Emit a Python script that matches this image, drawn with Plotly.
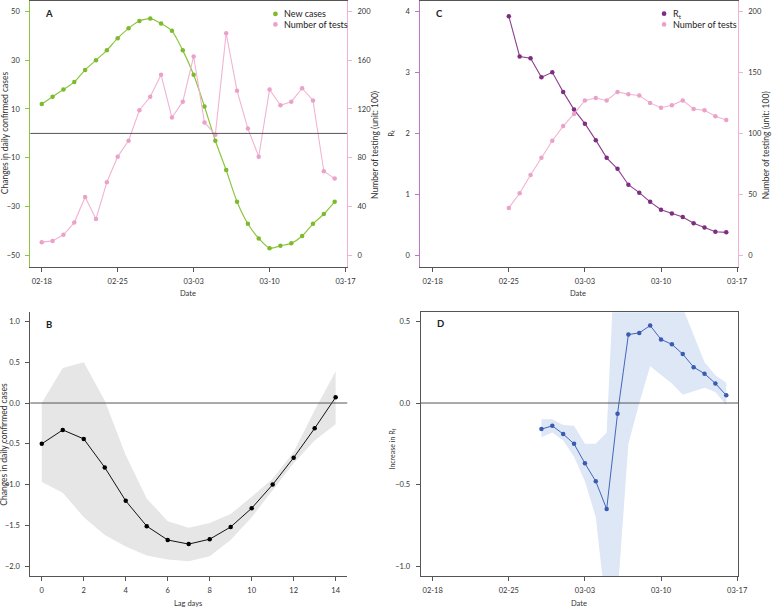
import plotly.graph_objects as go
from datetime import datetime, timedelta

# ---------------- data ----------------
DATES_A = ["02-18", "02-19", "02-20", "02-21", "02-22", "02-23", "02-24", "02-25",
           "02-26", "02-27", "02-28", "02-29", "03-01", "03-02", "03-03", "03-04",
           "03-05", "03-06", "03-07", "03-08", "03-09", "03-10", "03-11", "03-12",
           "03-13", "03-14", "03-15", "03-16"]
NEW_CASES = [12, 15, 18, 21, 26, 30, 34, 39, 43, 46, 47, 45, 42, 34, 24, 11,
             -3, -15, -28, -37, -43, -47, -46, -45, -42, -37, -33, -28]
TESTS_A = [11, 12, 17, 27, 48, 30, 60, 81, 94, 119, 130, 148, 113, 126, 163, 109,
           99, 182, 135, 104, 81, 136, 123, 126, 137, 127, 69, 63]

DATES_C = ["02-25", "02-26", "02-27", "02-28", "02-29", "03-01", "03-02", "03-03",
           "03-04", "03-05", "03-06", "03-07", "03-08", "03-09", "03-10", "03-11",
           "03-12", "03-13", "03-14", "03-15", "03-16"]
RT = [3.92, 3.26, 3.23, 2.92, 3.00, 2.68, 2.39, 2.16, 1.89, 1.60, 1.42, 1.16,
      1.03, 0.88, 0.75, 0.69, 0.63, 0.53, 0.46, 0.39, 0.38]
TESTS_C = [39, 51, 66, 80, 94, 106, 116, 127, 129, 127, 134, 132, 131, 125, 121,
           123, 127, 120, 119, 114, 111]

LAGS = list(range(15))
B_EST = [-0.50, -0.33, -0.44, -0.79, -1.20, -1.51, -1.68, -1.73, -1.67, -1.52,
         -1.29, -1.00, -0.67, -0.31, 0.07]
B_UPPER = [0.00, 0.43, 0.50, 0.03, -0.64, -1.17, -1.45, -1.53, -1.47, -1.36,
           -1.15, -0.93, -0.60, -0.09, 0.39]
B_LOWER = [-0.97, -1.10, -1.40, -1.62, -1.76, -1.87, -1.92, -1.94, -1.88, -1.68,
           -1.40, -1.07, -0.74, -0.46, -0.26]

DATES_D = ["02-28", "02-29", "03-01", "03-02", "03-03", "03-04", "03-05", "03-06",
           "03-07", "03-08", "03-09", "03-10", "03-11", "03-12", "03-13", "03-14",
           "03-15", "03-16"]
D_EST = [-0.16, -0.14, -0.19, -0.25, -0.37, -0.48, -0.65, -0.065, 0.42, 0.43,
         0.475, 0.39, 0.36, 0.30, 0.22, 0.18, 0.12, 0.047]
D_UPPER = [-0.10, -0.10, -0.135, -0.14, -0.25, -0.25, -0.18, 1.25, 1.20, 1.10,
           1.00, 0.90, 0.75, 0.58, 0.42, 0.25, 0.17, 0.125]
D_LOWER = [-0.21, -0.18, -0.23, -0.33, -0.48, -0.70, -1.30, -1.18, -0.25, 0.00,
           0.225, 0.17, 0.12, 0.05, 0.07, 0.094, 0.067, -0.014]

DATE_TICKS = ["02-18", "02-25", "03-03", "03-10", "03-17"]
LAG_TICKS = [0, 2, 4, 6, 8, 10, 12, 14]


def to_dt(s):
    return datetime.strptime("2020-" + s, "%Y-%m-%d")


xa = [to_dt(s) for s in DATES_A]
xc = [to_dt(s) for s in DATES_C]
xd = [to_dt(s) for s in DATES_D]
date_ticks = [to_dt(s) for s in DATE_TICKS]

# ---------------- styling ----------------
W, H = 780, 608
FONT = "Lato"
TXT = "#333333"
AX = "#555555"
GREEN = "#8CC63F"
GREEN_M = "#7DBA2C"
PINK = "#F2B3D3"
PINK_M = "#EBA2CA"
PURPLE = "#8F3F8F"
PURPLE_M = "#7D2E80"
PURPLE_AX = "#BA78C2"
BLUE = "#4466BB"
BLUE_M = "#3A5BB0"
BLUE_BAND = "#DDE7F6"
GRAY_BAND = "#E6E6E6"

TICKFONT = dict(family=FONT, size=7.5, color=TXT)


def px_x(p):
    return p / W


def px_y(p):
    return 1 - p / H


def day_range(left_days, right_days):
    return [to_dt("02-18") - timedelta(days=left_days),
            to_dt("03-17") + timedelta(days=right_days)]


fig = go.Figure()

# ---- Panel A ----
fig.add_trace(go.Scatter(x=xa, y=NEW_CASES, xaxis="x", yaxis="y", mode="lines+markers",
                         line=dict(color=GREEN, width=1.2, shape="spline", smoothing=0.6),
                         marker=dict(color=GREEN_M, size=4.5), name="New cases", showlegend=False))
fig.add_trace(go.Scatter(x=xa, y=TESTS_A, xaxis="x", yaxis="y2", mode="lines+markers",
                         line=dict(color=PINK, width=1.1),
                         marker=dict(color=PINK_M, size=4.5), name="Number of tests", showlegend=False))

# ---- Panel C ----
fig.add_trace(go.Scatter(x=xc, y=RT, xaxis="x2", yaxis="y3", mode="lines+markers",
                         line=dict(color=PURPLE, width=1.1),
                         marker=dict(color=PURPLE_M, size=4.5), name="Rt", showlegend=False))
fig.add_trace(go.Scatter(x=xc, y=TESTS_C, xaxis="x2", yaxis="y4", mode="lines+markers",
                         line=dict(color=PINK, width=1.1),
                         marker=dict(color=PINK_M, size=4.5), name="Number of tests", showlegend=False))

# ---- Panel B ----
fig.add_trace(go.Scatter(x=LAGS + LAGS[::-1], y=B_UPPER + B_LOWER[::-1], xaxis="x3", yaxis="y5",
                         mode="lines", fill="toself", fillcolor=GRAY_BAND,
                         line=dict(width=0, color=GRAY_BAND), hoverinfo="skip", showlegend=False))
fig.add_trace(go.Scatter(x=LAGS, y=B_EST, xaxis="x3", yaxis="y5", mode="lines+markers",
                         line=dict(color="#111111", width=1),
                         marker=dict(color="#000000", size=4.5), showlegend=False))

# ---- Panel D ----
fig.add_trace(go.Scatter(x=xd + xd[::-1], y=D_UPPER + D_LOWER[::-1], xaxis="x4", yaxis="y6",
                         mode="lines", fill="toself", fillcolor=BLUE_BAND,
                         line=dict(width=0, color=BLUE_BAND), hoverinfo="skip", showlegend=False))
fig.add_trace(go.Scatter(x=xd, y=D_EST, xaxis="x4", yaxis="y6", mode="lines+markers",
                         line=dict(color=BLUE, width=1),
                         marker=dict(color=BLUE_M, size=4.5), showlegend=False))

common_x = dict(showgrid=False, zeroline=False, showline=True, linecolor=AX, linewidth=1,
                ticks="outside", ticklen=4, tickcolor=AX, tickfont=TICKFONT,
                ticklabelstandoff=3)
common_y = dict(showgrid=False, zeroline=False, showline=True, linewidth=1,
                ticks="outside", ticklen=4, tickfont=TICKFONT, ticklabelstandoff=4)

top_dom = [px_y(266), px_y(0.5)]
bot_dom = [px_y(576), px_y(311.7)]

fig.update_layout(
    width=W, height=H, margin=dict(l=0, r=0, t=0, b=0),
    paper_bgcolor="white", plot_bgcolor="white",
    font=dict(family=FONT, color=TXT),
    showlegend=False,
    xaxis=dict(common_x, domain=[px_x(30.7), px_x(351.5)], anchor="y", type="date",
               range=day_range(1.055, 0.136), tickvals=date_ticks, tickformat="%m-%d",
               mirror=True),
    yaxis=dict(common_y, domain=top_dom, anchor="x", range=[-54.5, 54.0],
               tickvals=[-50, -30, -10, 10, 30, 50], linecolor=GREEN, tickcolor=GREEN),
    yaxis2=dict(common_y, anchor="x", overlaying="y", side="right", range=[-9.0, 208.0],
                tickvals=[0, 40, 80, 120, 160, 200], linecolor=PINK, tickcolor=PINK),
    xaxis2=dict(common_x, domain=[px_x(425.7), px_x(747.3)], anchor="y3", type="date",
                range=day_range(1.145, 0.055), tickvals=date_ticks, tickformat="%m-%d",
                mirror=True),
    yaxis3=dict(common_y, domain=top_dom, anchor="x2", range=[-0.18, 4.16],
                tickvals=[0, 1, 2, 3, 4], linecolor=PURPLE_AX, tickcolor=PURPLE_AX),
    yaxis4=dict(common_y, anchor="x2", overlaying="y3", side="right", range=[-9.0, 208.0],
                tickvals=[0, 50, 100, 150, 200], linecolor=PINK, tickcolor=PINK),
    xaxis3=dict(common_x, domain=[px_x(30.7), px_x(351.7)], anchor="y5",
                range=[-0.546, 14.55], tickvals=LAG_TICKS),
    yaxis5=dict(common_y, domain=bot_dom, anchor="x3", range=[-2.122, 1.114],
                tickvals=[-2.0, -1.5, -1.0, -0.5, 0.0, 0.5, 1.0], tickformat=".1f",
                linecolor=AX, tickcolor=AX),
    xaxis4=dict(common_x, domain=[px_x(426), px_x(747.7)], anchor="y6", type="date",
                range=day_range(1.118, 0.09), tickvals=date_ticks, tickformat="%m-%d",
                mirror=True),
    yaxis6=dict(common_y, domain=bot_dom, anchor="x4", range=[-1.061, 0.557],
                tickvals=[-1.0, -0.5, 0.0, 0.5], tickformat=".1f",
                linecolor=AX, tickcolor=AX, mirror=True),
)

# zero reference lines (drawn above bands)
for xr, yr in [("x", "y"), ("x3", "y5"), ("x4", "y6")]:
    fig.add_shape(type="line", xref=f"{xr} domain", x0=0, x1=1, yref=yr, y0=0, y1=0,
                  line=dict(color=AX, width=1), layer="above")


def ann(text, x, y, size=7.5, angle=0, bold=False, xanchor="center", color="#333333"):
    fig.add_annotation(text=f"<b>{text}</b>" if bold else text,
                       x=px_x(x), y=px_y(y), xref="paper", yref="paper",
                       showarrow=False, textangle=angle, xanchor=xanchor, yanchor="middle",
                       font=dict(family=FONT, size=size, color=color))


# panel letters
ann("A", 49.7, 12.5, size=9.5, bold=True, color="#222222")
ann("C", 445, 12.5, size=9.5, bold=True, color="#222222")
ann("B", 50, 324, size=9.5, bold=True, color="#222222")
ann("D", 446, 323.5, size=9.5, bold=True, color="#222222")

# axis titles
ann("Date", 190.7, 292.7)
ann("Date", 585.5, 293.3)
ann("Lag days", 190, 603)
ann("Date", 586.7, 603)
ann("Changes in daily confirmed cases", 4.5, 132, size=8.5, angle=-90)
ann("Changes in daily confirmed cases", 4.5, 444, size=8.5, angle=-90)
ann("Number of testing (unit: 100)", 380, 144, size=8.5, angle=-90)
ann("Number of testing (unit: 100)", 775.5, 145, size=8.5, angle=-90)
ann("R<sub>t</sub>", 397.3, 132.7, size=7.5, angle=-90)
ann("Increase in R<sub>t</sub>", 397.3, 449, size=7, angle=-90)


# legends (dot + label)
def legend_item(cx, cy, color, label):
    r = 2.4
    fig.add_shape(type="circle", xref="paper", yref="paper",
                  x0=px_x(cx - r), x1=px_x(cx + r), y0=px_y(cy + r), y1=px_y(cy - r),
                  fillcolor=color, line=dict(width=0))
    ann(label, cx + 7, cy, size=9, xanchor="left", color="#222222")


legend_item(279, 13.0, GREEN_M, "New cases")
legend_item(279, 23.5, PINK_M, "Number of tests")
legend_item(672.7, 12.7, PURPLE_M, "R<sub>t</sub>")
legend_item(672.7, 23.5, PINK_M, "Number of tests")

fig.write_html("out.html", config={"displayModeBar": False},
               post_script="document.body.style.margin='0';")
